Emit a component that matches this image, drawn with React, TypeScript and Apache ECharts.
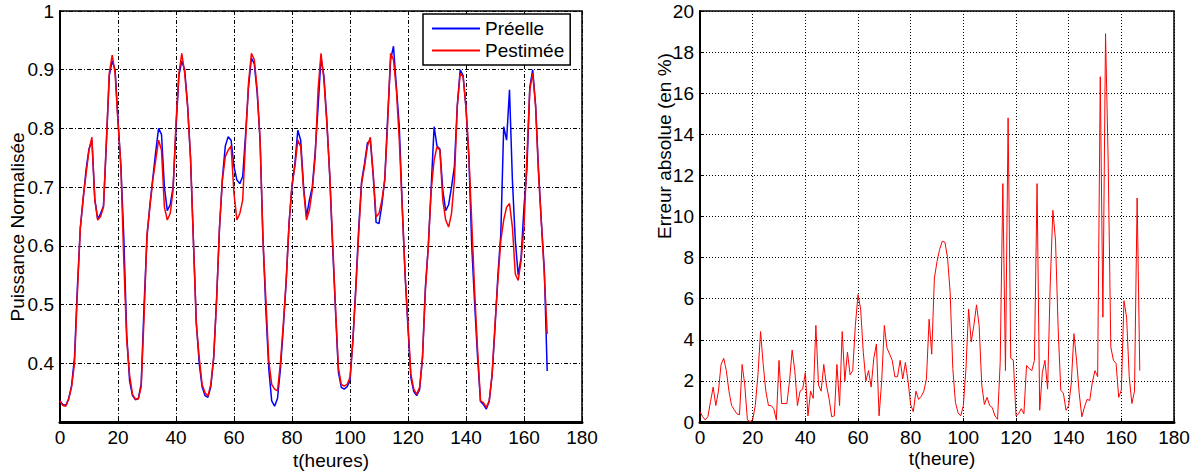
import React, { useEffect, useRef } from "react";
import * as echarts from "echarts";

// Hourly samples t = 0..168 (heures)
const P_ESTIMEE: number[] = [
  0.336, 0.328, 0.327, 0.339, 0.36, 0.40, 0.52, 0.63, 0.683, 0.723,
  0.763, 0.785, 0.678, 0.644, 0.65, 0.666, 0.78, 0.894, 0.925, 0.894,
  0.81, 0.735, 0.575, 0.44, 0.38, 0.347, 0.339, 0.339, 0.36, 0.48,
  0.62, 0.666, 0.712, 0.746, 0.78, 0.763, 0.666, 0.644, 0.655, 0.695,
  0.81, 0.894, 0.928, 0.894, 0.837, 0.752, 0.609, 0.467, 0.41, 0.364,
  0.35, 0.344, 0.364, 0.41, 0.507, 0.632, 0.712, 0.752, 0.763, 0.77,
  0.689, 0.644, 0.655, 0.678, 0.78, 0.877, 0.928, 0.917, 0.866, 0.78,
  0.609, 0.507, 0.404, 0.364, 0.356, 0.353, 0.40, 0.467, 0.541, 0.638,
  0.706, 0.735, 0.78, 0.769, 0.695, 0.644, 0.661, 0.695, 0.752, 0.866,
  0.928, 0.883, 0.81, 0.723, 0.609, 0.495, 0.392, 0.364, 0.361, 0.364,
  0.376, 0.438, 0.524, 0.621, 0.706, 0.735, 0.769, 0.785, 0.723, 0.649,
  0.655, 0.678, 0.712, 0.81, 0.928, 0.917, 0.866, 0.78, 0.666, 0.552,
  0.467, 0.381, 0.356, 0.347, 0.359, 0.41, 0.524, 0.598, 0.695, 0.746,
  0.769, 0.763, 0.678, 0.644, 0.632, 0.655, 0.712, 0.837, 0.894, 0.888,
  0.837, 0.752, 0.638, 0.52, 0.422, 0.336, 0.333, 0.325, 0.336, 0.381,
  0.467, 0.541, 0.609, 0.644, 0.666, 0.672, 0.632, 0.552, 0.541, 0.575,
  0.632, 0.752, 0.866, 0.894, 0.837, 0.723, 0.638, 0.552, 0.45,
];

const P_REELLE: number[] = [
  0.336, 0.33, 0.328, 0.34, 0.362, 0.41, 0.53, 0.63, 0.68, 0.73,
  0.765, 0.78, 0.68, 0.646, 0.655, 0.668, 0.775, 0.89, 0.915, 0.9,
  0.815, 0.735, 0.615, 0.45, 0.37, 0.345, 0.338, 0.34, 0.365, 0.5,
  0.615, 0.67, 0.715, 0.76, 0.80, 0.79, 0.70, 0.66, 0.67, 0.70,
  0.80, 0.89, 0.915, 0.9, 0.84, 0.75, 0.61, 0.47, 0.40, 0.36,
  0.345, 0.342, 0.36, 0.41, 0.51, 0.63, 0.715, 0.77, 0.786, 0.78,
  0.735, 0.712, 0.706, 0.718, 0.79, 0.87, 0.92, 0.91, 0.86, 0.78,
  0.61, 0.49, 0.39, 0.336, 0.327, 0.34, 0.39, 0.46, 0.54, 0.64,
  0.70, 0.74, 0.797, 0.78, 0.70, 0.65, 0.678, 0.70, 0.76, 0.837,
  0.92, 0.89, 0.815, 0.72, 0.60, 0.49, 0.385, 0.359, 0.356, 0.36,
  0.37, 0.44, 0.53, 0.63, 0.71, 0.74, 0.775, 0.78, 0.72, 0.64,
  0.638, 0.67, 0.715, 0.82, 0.917, 0.94, 0.87, 0.803, 0.67, 0.55,
  0.46, 0.375, 0.352, 0.345, 0.355, 0.41, 0.53, 0.60, 0.70, 0.803,
  0.77, 0.765, 0.695, 0.66, 0.67, 0.70, 0.735, 0.84, 0.90, 0.89,
  0.835, 0.75, 0.598, 0.50, 0.41, 0.335, 0.33, 0.322, 0.335, 0.38,
  0.46, 0.55, 0.62, 0.803, 0.78, 0.866, 0.712, 0.609, 0.55, 0.58,
  0.666, 0.73, 0.87, 0.90, 0.84, 0.73, 0.64, 0.56, 0.387,
];

const ERREUR: number[] = [
  0.5, 0.26, 0.1, 0.26, 1.0, 1.7, 0.8, 1.5, 2.8, 3.1,
  2.5, 1.5, 0.8, 0.6, 0.4, 0.35, 2.8, 1.8, 0.1, 0.02,
  0.1, 0.8, 2.3, 4.4, 2.8, 1.5, 0.8, 0.8, 0.65, 0.1,
  3.0, 0.9, 0.9, 0.9, 2.0, 3.5, 2.5, 0.8, 1.5, 1.6,
  2.4, 0.3, 1.5, 1.15, 4.7, 1.8, 1.5, 2.8, 1.8, 1.15,
  0.26, 0.3, 2.8, 0.8, 4.4, 2.0, 3.4, 2.3, 2.5, 4.7,
  6.2, 5.5, 3.4, 2.0, 2.5, 1.7, 3.1, 3.8, 0.3, 2.0,
  4.7, 3.6, 3.3, 3.0, 2.2, 2.2, 3.0, 2.1, 2.9, 2.0,
  0.85, 0.5, 1.5, 1.1, 1.25, 1.5, 2.1, 5.0, 3.3, 7.0,
  7.8, 8.4, 8.8, 8.75, 8.0, 6.3, 2.6, 0.95, 0.45, 0.3,
  0.8, 2.6, 5.5, 3.9, 4.7, 5.7, 4.7, 1.8, 0.85, 1.2,
  0.8, 0.7, 0.3, 0.13, 2.9, 11.6, 2.5, 14.8, 3.1, 3.0,
  0.3, 0.4, 0.65, 0.4, 2.75, 2.6, 2.5, 3.0, 11.6, 0.57,
  2.4, 3.0, 1.6, 6.7, 10.3, 8.85, 4.6, 1.55, 1.4, 0.57,
  0.8, 1.9, 4.3, 3.0, 1.4, 0.25, 0.73, 1.1, 1.05, 1.95,
  2.5, 2.2, 16.8, 5.1, 18.9, 12.7, 3.65, 3.0, 2.85, 1.2,
  1.55, 5.9, 5.1, 2.2, 0.9, 1.5, 10.9, 2.5,
];

const SERIES_NAMES = ["Préelle", "Pestimée"];
const X_LABEL_LEFT = "t(heures)";
const X_LABEL_RIGHT = "t(heure)";
const Y_LABEL_LEFT = "Puissance Normalisée";
const Y_LABEL_RIGHT = "Erreur absolue (en %)";

const FONT = "'Liberation Sans', Arial, Helvetica, sans-serif";

const toPairs = (arr: number[]) => arr.map((v, i) => [i, v]);

export default function App() {
  const ref = useRef<HTMLDivElement>(null);
  useEffect(() => {
    if (!ref.current) return;
    const chart = echarts.init(ref.current, null, { renderer: "svg" });
    const gridLineL = { show: true, lineStyle: { color: "#000", type: [4, 2, 1, 2], width: 1 } };
    const gridLineR = { show: true, lineStyle: { color: "#000", type: [1, 2], width: 1 } };
    const axisLabel = { color: "#000", fontSize: 19, fontFamily: FONT, margin: 6 };
    const axisLine = { show: true, lineStyle: { color: "#000", width: 3 } };
    const yAxisLine = { show: true, lineStyle: { color: "#000", width: 2 } };
    const tick = { show: true, inside: true, length: 4, lineStyle: { color: "#000" } };
    chart.setOption({
      animation: false,
      backgroundColor: "#fff",
      textStyle: { fontFamily: FONT },
      grid: [
        { left: 60, top: 11, width: 522, height: 411, show: true, borderColor: "#000", borderWidth: 1.5, backgroundColor: "#fff" },
        { left: 700, top: 11, width: 474, height: 411, show: true, borderColor: "#000", borderWidth: 1.5, backgroundColor: "#fff" },
      ],
      xAxis: [
        { type: "value", gridIndex: 0, min: 0, max: 180, interval: 20, axisLabel, axisLine, axisTick: tick, splitLine: gridLineL },
        { type: "value", gridIndex: 1, min: 0, max: 180, interval: 20, axisLabel, axisLine, axisTick: tick, splitLine: gridLineR },
      ],
      yAxis: [
        {
          type: "value", gridIndex: 0, min: 0.3, max: 1, interval: 0.1,
          axisLabel: {
            ...axisLabel,
            formatter: (v: number) => (v < 0.35 ? "" : v > 0.99 ? "1" : v.toFixed(1)),
          },
          axisLine: yAxisLine, axisTick: tick, splitLine: gridLineL,
        },
        {
          type: "value", gridIndex: 1, min: 0, max: 20, interval: 2,
          axisLabel, axisLine: yAxisLine, axisTick: tick, splitLine: gridLineR,
        },
      ],
      legend: {
        data: SERIES_NAMES,
        orient: "vertical",
        left: 423,
        top: 14,
        padding: [5, 6, 5, 9],
        itemGap: 3,
        itemWidth: 48,
        itemHeight: 2,
        icon: "rect",
        borderColor: "#000",
        borderWidth: 1.5,
        borderRadius: 0,
        backgroundColor: "#fff",
        textStyle: { color: "#000", fontSize: 19, fontFamily: FONT },
      },
      series: [
        {
          name: SERIES_NAMES[0], type: "line", xAxisIndex: 0, yAxisIndex: 0,
          data: toPairs(P_REELLE), showSymbol: false, color: "#0000ff",
          lineStyle: { width: 1.5, color: "#0000ff" },
        },
        {
          name: SERIES_NAMES[1], type: "line", xAxisIndex: 0, yAxisIndex: 0,
          data: toPairs(P_ESTIMEE), showSymbol: false, color: "#ff0000",
          lineStyle: { width: 1.5, color: "#ff0000" },
        },
        {
          name: "Erreur", type: "line", xAxisIndex: 1, yAxisIndex: 1,
          data: toPairs(ERREUR), showSymbol: false, color: "#ff0000",
          lineStyle: { width: 1, color: "#ff0000" },
        },
      ],
      graphic: [
        { type: "text", x: 331, y: 460, style: { text: X_LABEL_LEFT, fontSize: 19, fontFamily: FONT, fill: "#000", align: "center", verticalAlign: "middle" } },
        { type: "text", x: 942, y: 458, style: { text: X_LABEL_RIGHT, fontSize: 19, fontFamily: FONT, fill: "#000", align: "center", verticalAlign: "middle" } },
        { type: "text", x: 17, y: 227, rotation: Math.PI / 2, style: { text: Y_LABEL_LEFT, fontSize: 19, fontFamily: FONT, fill: "#000", align: "center", verticalAlign: "middle" } },
        { type: "text", x: 664, y: 146, rotation: Math.PI / 2, style: { text: Y_LABEL_RIGHT, fontSize: 19, fontFamily: FONT, fill: "#000", align: "center", verticalAlign: "middle" } },
      ],
    });
    return () => chart.dispose();
  }, []);
  return (
    <div
      ref={ref}
      style={{ position: "absolute", left: 0, top: 0, width: 1201, height: 473, background: "#fff" }}
    />
  );
}
